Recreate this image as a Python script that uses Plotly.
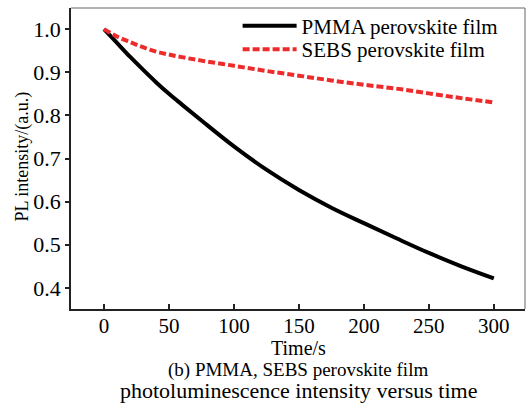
import plotly.graph_objects as go

# Time axis (s) and normalised PL intensity for both films
time_s = [0, 10, 20, 30, 40, 50, 60, 75, 100, 125, 150, 175, 200, 225, 250, 275, 300]
pmma_pl = [1.0, 0.968, 0.936, 0.906, 0.877, 0.850, 0.825, 0.788, 0.728, 0.674,
           0.627, 0.586, 0.550, 0.515, 0.481, 0.450, 0.422]
sebs_pl = [1.0, 0.983, 0.970, 0.958, 0.948, 0.941, 0.935, 0.927, 0.915, 0.903,
           0.892, 0.881, 0.871, 0.862, 0.851, 0.840, 0.830]

x_ticks = [0, 50, 100, 150, 200, 250, 300]
y_ticks = [0.4, 0.5, 0.6, 0.7, 0.8, 0.9, 1.0]

series_names = ["PMMA perovskite film", "SEBS perovskite film"]
caption_lines = ["(b) PMMA, SEBS perovskite film",
                 "photoluminescence intensity versus time"]

FONT = "Liberation Serif, Times New Roman, serif"

fig = go.Figure()
fig.add_trace(go.Scatter(
    x=time_s, y=pmma_pl, mode="lines", name=series_names[0], legend="legend",
    line=dict(color="black", width=4, shape="spline"),
))
fig.add_trace(go.Scatter(
    x=time_s, y=sebs_pl, mode="lines", name=series_names[1], legend="legend2",
    line=dict(color="#ee2b2b", width=4, dash="7px,3px", shape="spline"),
))

legend_style = dict(
    xanchor="left", yanchor="middle", bgcolor="rgba(0,0,0,0)",
    font=dict(size=21), itemwidth=54, borderwidth=0,
)

fig.update_layout(
    width=531, height=404,
    margin=dict(l=71, r=6, t=8, b=95),
    paper_bgcolor="white", plot_bgcolor="white",
    font=dict(family=FONT, size=21, color="black"),
    showlegend=True,
    legend=dict(x=0.367, y=0.940, **legend_style),
    legend2=dict(x=0.367, y=0.862, **legend_style),
    xaxis=dict(
        range=[-25.4, 324], tickvals=x_ticks, tickfont=dict(size=21),
        ticks="inside", ticklen=5, tickwidth=1.5, tickcolor="#222",
        ticklabelstandoff=-3,
        showline=True, linecolor="#222", linewidth=1.5,
        showgrid=False, zeroline=False,
    ),
    yaxis=dict(
        range=[0.351, 1.049], tickvals=y_ticks, tickformat=".1f",
        tickfont=dict(size=22),
        ticks="outside", ticklen=4, tickwidth=1.5, tickcolor="#222",
        showline=True, linecolor="#222", linewidth=1.5,
        showgrid=False, zeroline=False,
    ),
    shapes=[
        dict(type="line", xref="paper", yref="paper", x0=0, x1=1, y0=1, y1=1,
             line=dict(color="#666", width=1)),
        dict(type="line", xref="paper", yref="paper", x0=1, x1=1, y0=0, y1=1,
             line=dict(color="#666", width=1)),
    ],
    annotations=[
        dict(text="PL intensity/(a.u.)", xref="paper", yref="paper", x=0, y=0.5,
             xanchor="center", yanchor="middle", xshift=-49, yshift=2,
             textangle=-90, showarrow=False, font=dict(size=18)),
        dict(text="Time/s", xref="paper", yref="paper", x=0.5, y=0,
             xanchor="center", yanchor="middle", yshift=-39, showarrow=False,
             font=dict(size=20)),
        dict(text=caption_lines[0], xref="paper", yref="paper", x=0.5, y=0,
             xanchor="center", yanchor="middle", yshift=-61, showarrow=False,
             font=dict(size=19)),
        dict(text=caption_lines[1], xref="paper", yref="paper", x=0.5, y=0,
             xanchor="center", yanchor="middle", yshift=-81, showarrow=False,
             font=dict(size=22)),
    ],
)

fig.write_html("out.html")
